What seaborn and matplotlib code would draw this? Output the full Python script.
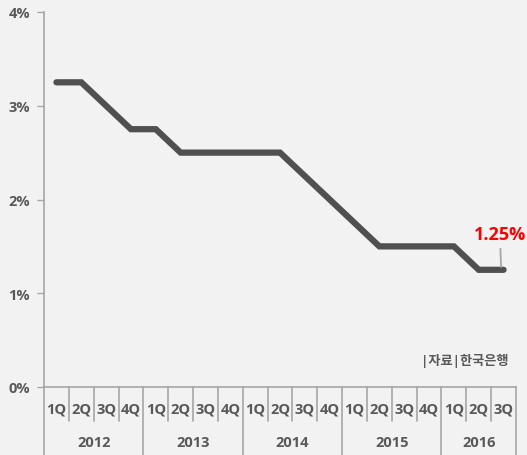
import matplotlib
matplotlib.use("Agg")
import matplotlib.pyplot as plt
import matplotlib.transforms as mtransforms
import seaborn as sns
import pandas as pd

years = ["2012", "2013", "2014", "2015", "2016"]
quarters_per_year = [4, 4, 4, 4, 3]
quarter_labels = ["1Q", "2Q", "3Q", "4Q"] * 4 + ["1Q", "2Q", "3Q"]
base_rate = [3.25, 3.25, 3.00, 2.75, 2.75, 2.50, 2.50, 2.50, 2.50, 2.50,
             2.25, 2.00, 1.75, 1.50, 1.50, 1.50, 1.50, 1.25, 1.25]
y_ticks = [0, 1, 2, 3, 4]
y_tick_labels = ["0%", "1%", "2%", "3%", "4%"]
last_label = "1.25%"
source_text = "|자료|한국은행"

sns.set_theme(style="white")
plt.rcParams["font.family"] = ["Open Sans", "Noto Sans CJK KR", "DejaVu Sans"]

bg = "#F2F2F2"
axis_grey = "#A6A6A6"
text_grey = "#595959"
label_size = 10.5

fig = plt.figure(figsize=(5.27, 4.56), dpi=100, facecolor=bg)
ax = fig.add_axes([44 / 527, 1 - 388 / 456, (516 - 44) / 527, (388 - 13) / 456])
ax.set_facecolor(bg)

df = pd.DataFrame({"idx": range(len(base_rate)), "rate": base_rate})
sns.lineplot(data=df, x="idx", y="rate", ax=ax, color="#505050", linewidth=4.5,
             solid_capstyle="round", solid_joinstyle="miter")

ax.set_xlim(-0.5, len(base_rate) - 0.5)
ax.set_ylim(0, 4)
ax.set_yticks(y_ticks)
ax.set_yticklabels(y_tick_labels, fontsize=label_size, fontweight="bold",
                   color=text_grey)
ax.set_xticks([])
ax.set_xlabel("")
ax.set_ylabel("")
ax.tick_params(axis="y", direction="out", length=5, width=1, color=axis_grey,
               left=True, pad=5)

for side in ["top", "right"]:
    ax.spines[side].set_visible(False)
for side in ["left", "bottom"]:
    ax.spines[side].set_color(axis_grey)
    ax.spines[side].set_linewidth(1.2)

# two-level category axis: quarters above, years below
trans = mtransforms.blended_transform_factory(ax.transData, ax.transAxes)
axes_h = 388 - 13
q_bottom = -34 / axes_h
y_bottom = -68 / axes_h
year_edges = [-0.5]
for n in quarters_per_year:
    year_edges.append(year_edges[-1] + n)

for k in range(len(base_rate) + 1):
    edge = k - 0.5
    low = y_bottom if edge in year_edges else q_bottom
    ax.plot([edge, edge], [0, low], transform=trans, color=axis_grey,
            linewidth=1.2, clip_on=False)

for i, q in enumerate(quarter_labels):
    ax.text(i, -22 / axes_h, q, transform=trans, ha="center", va="center",
            fontsize=label_size, fontweight="bold", color=text_grey)

for j, yr in enumerate(years):
    centre = (year_edges[j] + year_edges[j + 1]) / 2
    ax.text(centre, -55 / axes_h, yr, transform=trans, ha="center", va="center",
            fontsize=label_size, fontweight="bold", color=text_grey)

# value label for the latest quarter
last_i = len(base_rate) - 1
ax.annotate(last_label, xy=(last_i - 0.1, base_rate[-1] + 0.03),
            xytext=(last_i - 0.15, base_rate[-1] + 0.29),
            ha="center", va="bottom", fontsize=13, fontweight="bold",
            color="#FF0000",
            arrowprops=dict(arrowstyle="-", color=axis_grey, lw=1.3,
                            shrinkA=2, shrinkB=0))

ax.text(last_i + 0.2, 0.29, source_text, ha="right", va="center",
        fontsize=9.5, fontweight="bold", color=text_grey)

fig.savefig("out.png", dpi=100, facecolor=bg)
